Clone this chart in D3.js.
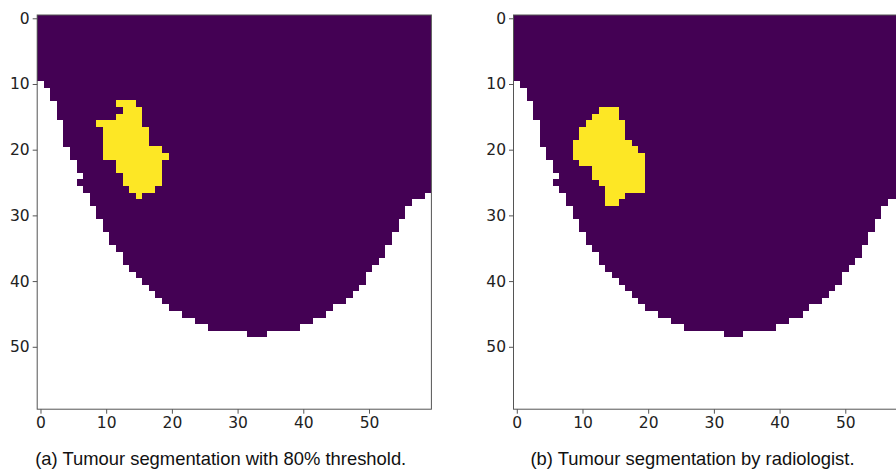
<!DOCTYPE html>
<html>
<head>
<meta charset="utf-8">
<script src="https://cdn.jsdelivr.net/npm/d3@7"></script>
<style>
  body { margin: 0; background: #fff; }
  svg { display: block; }
  .caption { font-family: "Liberation Sans", Arial, sans-serif; font-size: 18.4px; fill: #111; }
</style>
</head>
<body>
<svg width="896" height="470"></svg>
<script>
// breast mask, one run per image row (rows 0..48), same in both panels
var maskStart = [0,0,0,0,0,0,0,0,0,0, 1,2,2,3,3,3,4,4,4,4, 5,5,6,6,7,6,7,8,8,9,
                 9,10,10,11,11,12,13,13,14,15, 16,17,18,19,20,22,24,26,32]
var maskEnd   = [59,59,59,59,59,59,59,59,59,59, 59,59,59,59,59,59,59,59,59,59,
                 59,59,59,59,59,59,59,58,56,55, 55,54,54,53,53,52,52,51,50,49,
                 49,48,47,46,44,43,41,39,34]

// tumour runs, (a) 80% threshold
var tumourRowsA  = [13,14,15,16,17,18,19,20,21,22,23,24,25,26,27]
var tumourStartA = [12,13,12, 9,10,10,10,10,10,12,12,13,13,14,15]
var tumourEndA   = [14,15,15,15,16,16,16,18,19,18,18,18,18,17,15]

// tumour runs, (b) radiologist
var tumourRowsB  = [14,15,16,17,18,19,20,21,22,23,24,25,26,27,28]
var tumourStartB = [13,12,11,10,10, 9, 9, 9,10,12,12,13,14,14,14]
var tumourEndB   = [15,15,16,16,16,17,18,19,19,19,19,19,19,16,15]

var tickValues = [0,10,20,30,40,50]
var captions = ["(a) Tumour segmentation with 80% threshold.",
                "(b) Tumour segmentation by radiologist."]

var size = 394.2
var panelTop = 15
var lefts = [37.2, 513.5]
var purple = "#440154", yellow = "#fde725"

var xs = d3.scaleLinear().domain([-0.5, 59.5]).range([0, size])
var ys = d3.scaleLinear().domain([-0.5, 59.5]).range([0, size])

var svg = d3.select("svg")

function runs(rowsArr, startArr, endArr) {
  return rowsArr.map(function(r, i){ return {row: r, start: startArr[i], end: endArr[i]} })
}
var maskRuns = runs(d3.range(maskStart.length), maskStart, maskEnd)
var tumours = [runs(tumourRowsA, tumourStartA, tumourEndA),
               runs(tumourRowsB, tumourStartB, tumourEndB)]

lefts.forEach(function(left, p) {
  var g = svg.append("g").attr("transform", "translate(" + left + "," + panelTop + ")")

  function draw(data, colour) {
    g.append("g").selectAll("rect").data(data).enter().append("rect")
      .attr("x", function(d){ return xs(d.start - 0.5) })
      .attr("y", function(d){ return ys(d.row - 0.5) })
      .attr("width", function(d){ return xs(d.end + 0.5) - xs(d.start - 0.5) })
      .attr("height", function(d){ return ys(d.row + 0.5) - ys(d.row - 0.5) + 0.3 })
      .attr("fill", colour)
      .attr("shape-rendering", "crispEdges")
  }
  draw(maskRuns, purple)
  draw(tumours[p], yellow)

  // frame
  g.append("rect").attr("width", size).attr("height", size)
    .attr("fill", "none").attr("stroke", "#555").attr("stroke-width", 1)

  var yAxis = g.append("g")
    .call(d3.axisLeft(ys).tickValues(tickValues).tickSize(4.5).tickPadding(3))
  var xAxis = g.append("g").attr("transform", "translate(0," + size + ")")
    .call(d3.axisBottom(xs).tickValues(tickValues).tickSize(4.5).tickPadding(3))
  ;[yAxis, xAxis].forEach(function(a){
    a.attr("font-family", "'DejaVu Sans', sans-serif").attr("font-size", 15.5)
    a.select(".domain").remove()
    a.selectAll(".tick line").attr("stroke", "#555")
    a.selectAll(".tick text").attr("fill", "#222")
  })

  svg.append("text").attr("class", "caption")
    .attr("x", left + (p == 0 ? 183.5 : 179)).attr("y", 465)
    .attr("text-anchor", "middle")
    .text(captions[p])
})
</script>
</body>
</html>
